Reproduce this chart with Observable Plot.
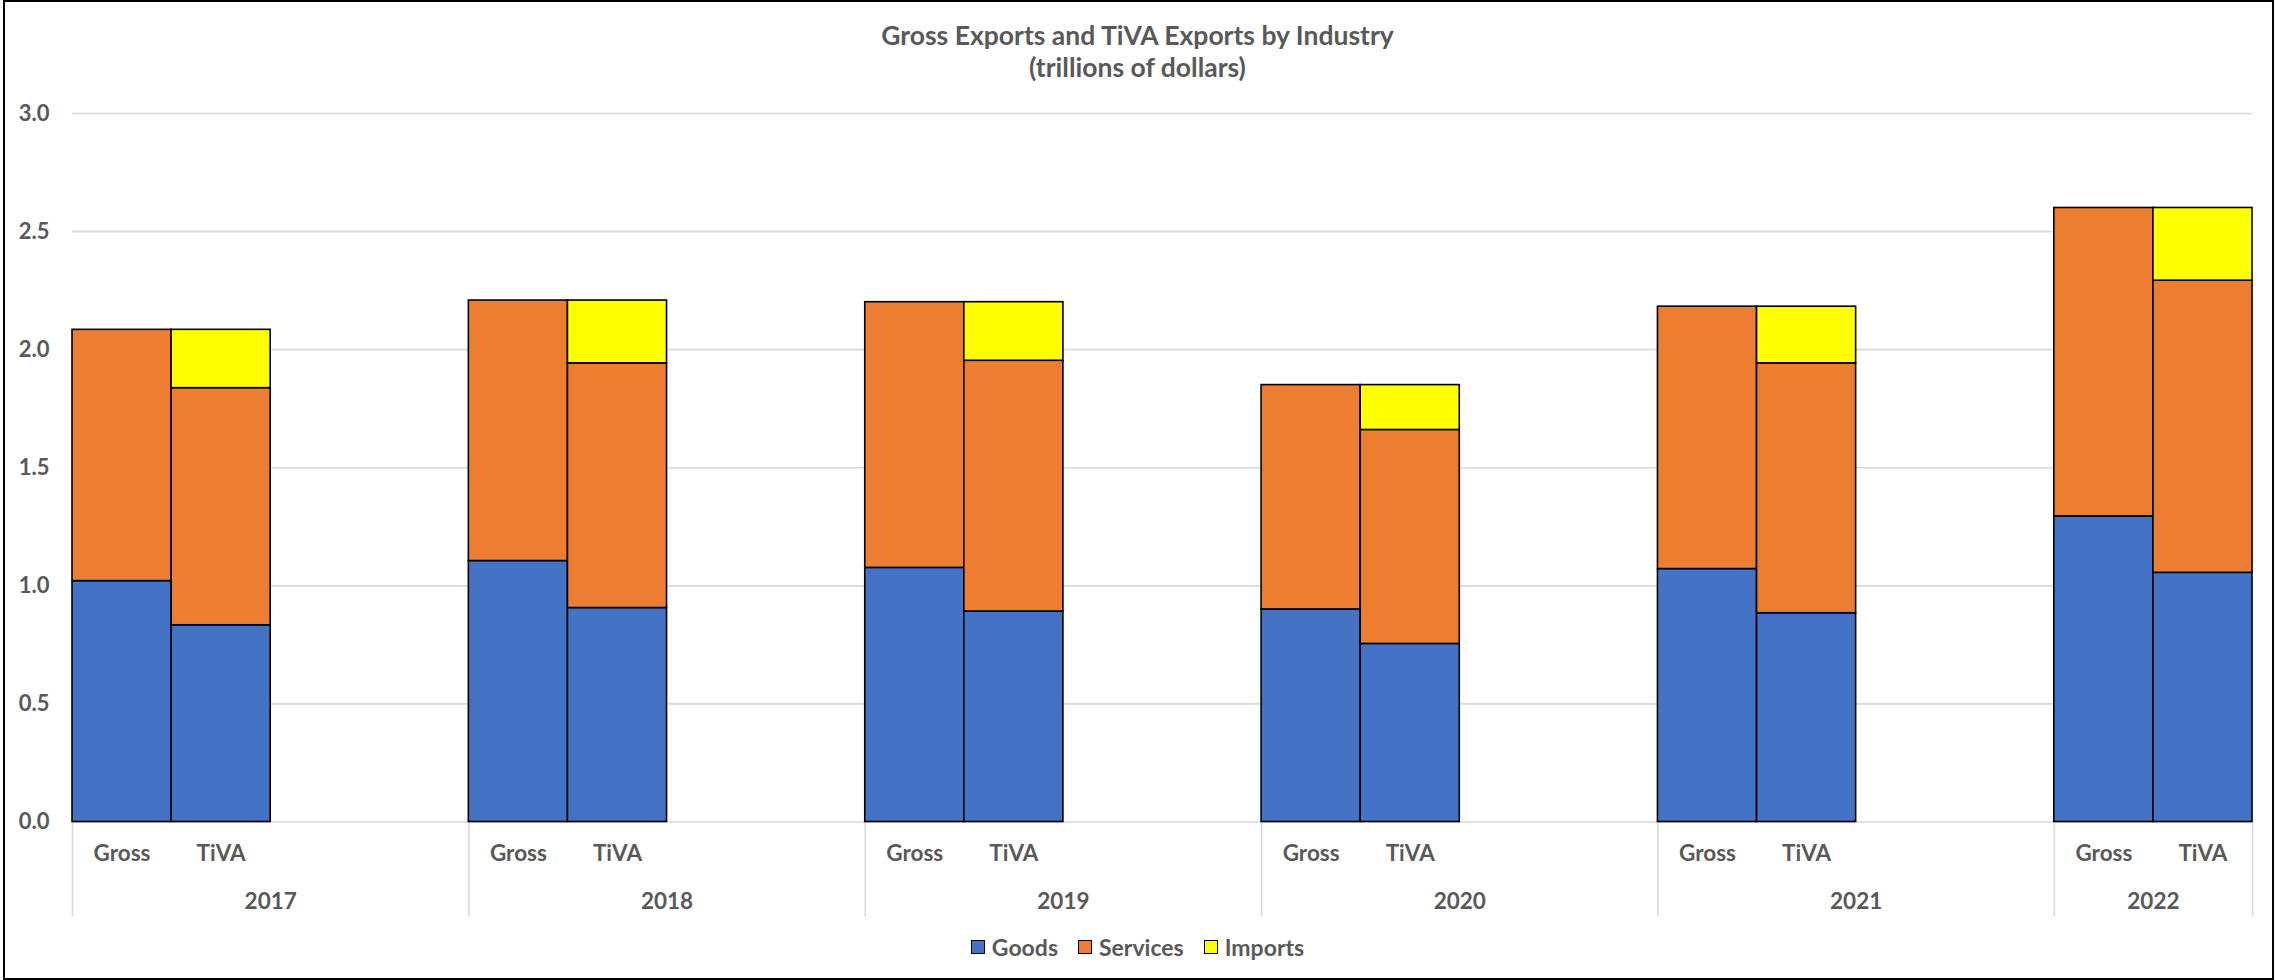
<!DOCTYPE html>
<html>
<head>
<meta charset="utf-8">
<script src="https://cdn.jsdelivr.net/npm/d3@7"></script>
<script src="https://cdn.jsdelivr.net/npm/@observablehq/plot@0.6"></script>
<style>
  html, body { margin: 0; padding: 0; background: #fff; }
  #wrap { position: relative; width: 2275px; height: 980px; overflow: hidden;
          font-family: Lato, "Open Sans", sans-serif; color: #595959; background: #fff; }
  #frame { position: absolute; left: 3px; top: 0; width: 2271px; height: 980px;
           box-sizing: border-box; border: 2.5px solid #000; pointer-events: none; }
  #title { height: 100px; box-sizing: border-box; padding-top: 19px; text-align: center;
           font-size: 26.5px; font-weight: 700; line-height: 32px; }
  #chart svg { display: block; }
  #legend { height: 44px; display: flex; justify-content: center; align-items: center;
            font-size: 23px; font-weight: 700; }
  .item { display: flex; align-items: center; margin: 0 10px; }
  .sw { width: 14px; height: 14px; box-sizing: border-box; border: 1.8px solid #000; margin-right: 7px; }
</style>
</head>
<body>
<div id="wrap">
  <div id="title">Gross Exports and TiVA Exports by Industry<br>(trillions of dollars)</div>
  <div id="chart"></div>
  <div id="legend"></div>
  <div id="frame"></div>
</div>
<script>
// ---- data (trillions of dollars) ----
const years = [2017, 2018, 2019, 2020, 2021, 2022];
const types = ["Gross", "TiVA"];
const components = ["Goods", "Services", "Imports"];
const colors = ["#4472C4", "#ED7D31", "#FFFF00"];

const grossGoods    = [1.020, 1.105, 1.076, 0.900, 1.071, 1.294];
const grossServices = [1.064, 1.103, 1.125, 0.950, 1.111, 1.306];
const grossImports  = [0, 0, 0, 0, 0, 0];
const tivaGoods     = [0.833, 0.906, 0.891, 0.754, 0.884, 1.055];
const tivaServices  = [1.004, 1.036, 1.062, 0.906, 1.058, 1.237];
const tivaImports   = [0.247, 0.266, 0.248, 0.190, 0.240, 0.308];

const yTicks = [0, 0.5, 1.0, 1.5, 2.0, 2.5, 3.0];

// Excel layout: each year holds two bars plus two blank categories (the last year has no blanks)
const slotsPerYear = 4;
const nSlots = (years.length - 1) * slotsPerYear + types.length;

const series = {
  Gross: [grossGoods, grossServices, grossImports],
  TiVA: [tivaGoods, tivaServices, tivaImports]
};

const rows = [];
years.forEach((yr, i) => {
  types.forEach((t, j) => {
    const idx = i * slotsPerYear + j;
    components.forEach((c, k) => {
      const v = series[t][k][i];
      if (v > 0) rows.push({year: yr, type: t, idx, component: c, value: v});
    });
  });
});

const boundaries = years.map((_, i) => i * slotsPerYear).concat([nSlots]);
const yearCenters = years.map((_, i) => i * slotsPerYear + Math.min(slotsPerYear, nSlots - i * slotsPerYear) / 2);
const yearLabel = new Map(yearCenters.map((c, i) => [c, String(years[i])]));
const typePos = [];
const typeLabel = new Map();
years.forEach((_, i) => types.forEach((t, j) => {
  const p = i * slotsPerYear + j + 0.5;
  typePos.push(p); typeLabel.set(p, t);
}));

const font = {fontFamily: "Lato, 'Open Sans', sans-serif", fontWeight: "bold"};

const chart = Plot.plot({
  width: 2275,
  height: 825,
  marginLeft: 72,
  marginRight: 23,
  marginTop: 13,
  marginBottom: 103.5,
  style: {fontFamily: font.fontFamily, fontWeight: "bold", fontSize: "22px", color: "#595959", background: "transparent"},
  x: {domain: [0, nSlots], label: null},
  y: {domain: [0, 3], label: null},
  color: {domain: components, range: colors},
  marks: [
    Plot.ruleY(yTicks, {stroke: "#d9d9d9", strokeWidth: 1.6}),
    Plot.axisY({ticks: yTicks, tickFormat: d3.format(".1f"), tickSize: 0, tickPadding: 23,
                fontSize: 22, fontWeight: "bold", fill: "#595959"}),
    Plot.axisX({ticks: boundaries, tickFormat: () => "", tickSize: 95, stroke: "#d9d9d9", strokeWidth: 1.6}),
    Plot.axisX({ticks: typePos, tickFormat: d => typeLabel.get(d), tickSize: 0, tickPadding: 23.5,
                fontSize: 22.5, fontWeight: "bold", fill: "#595959"}),
    Plot.axisX({ticks: yearCenters, tickFormat: d => yearLabel.get(d), tickSize: 0, tickPadding: 71,
                fontSize: 22.5, fontWeight: "bold", fill: "#595959"}),
    Plot.rect(rows, Plot.stackY({
      x: "idx",
      x1: "idx",
      x2: d => d.idx + 1,
      y: "value",
      fill: "component",
      stroke: "#000",
      strokeWidth: 1.6
    }))
  ]
});
document.getElementById("chart").appendChild(chart);

const legend = document.getElementById("legend");
components.forEach((c, i) => {
  const item = document.createElement("div");
  item.className = "item";
  const sw = document.createElement("div");
  sw.className = "sw";
  sw.style.background = colors[i];
  const label = document.createElement("span");
  label.textContent = c;
  item.appendChild(sw);
  item.appendChild(label);
  legend.appendChild(item);
});
</script>
</body>
</html>
